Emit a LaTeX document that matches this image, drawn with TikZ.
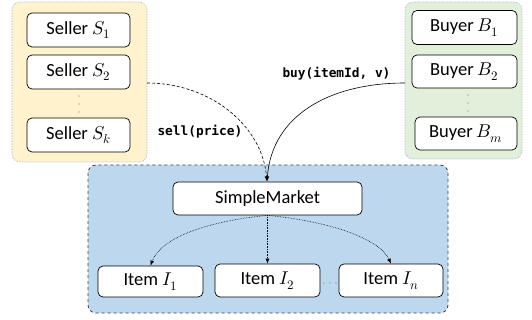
\documentclass[tikz,border=0pt]{standalone}
\usepackage{fontspec}
\usepackage{unicode-math}
\setmainfont{Carlito}
\setmonofont{DejaVu Sans Mono}
\usetikzlibrary{arrows.meta}
\definecolor{sellerbg}{HTML}{FFF2CC}
\definecolor{buyerbg}{HTML}{E2EFDA}
\definecolor{marketbg}{HTML}{BDD7EE}
\definecolor{groupline}{HTML}{8FAADC}
\definecolor{dashline}{HTML}{404040}
\definecolor{dotgray}{HTML}{707070}
\begin{document}
\begin{tikzpicture}[x=1pt,y=-1pt,
  group/.style={draw=groupline, densely dotted, line width=0.6pt, rounded corners=8pt},
  entity/.style={draw=black, line width=0.7pt, fill=white, rounded corners=5pt,
    font=\fontsize{18.5}{21}\selectfont, inner sep=0pt},
  call/.style={font=\fontsize{12.8}{15}\selectfont\ttfamily\bfseries},
  link/.style={-{Latex[length=5pt,width=4pt]}, line width=0.6pt},
  vdots/.style={line width=1.4pt, draw=dotgray, line cap=round, dash pattern=on 0pt off 8pt}
]
\useasboundingbox (0,0) rectangle (532,320);

% seller and buyer groups
\draw[group, fill=sellerbg] (12,2) rectangle (147,162);
\draw[group, fill=buyerbg] (405,2) rectangle (522,159);

% market container
\draw[fill=marketbg, draw=dashline, dashed, line width=0.8pt, rounded corners=8pt]
  (88,165) rectangle (448,313);

% sellers
\node[entity, minimum width=103pt, minimum height=34pt] (s1) at (78.5,30) {Seller $S_1$};
\node[entity, minimum width=103pt, minimum height=34pt] (s2) at (78.5,72) {Seller $S_2$};
\node[entity, minimum width=103pt, minimum height=34pt] (sk) at (78.5,135) {Seller $S_k$};

% buyers
\node[entity, minimum width=105pt, minimum height=34pt] (b1) at (464.5,27.5) {Buyer $B_1$};
\node[entity, minimum width=105pt, minimum height=33pt] (b2) at (464.5,71.5) {Buyer $B_2$};
\node[entity, minimum width=102pt, minimum height=33pt] (bm) at (466,133.5) {Buyer $B_m$};

% market internals
\node[entity, minimum width=189pt, minimum height=33pt] (sm) at (267.5,198.5) {SimpleMarket};
\node[entity, minimum width=105pt, minimum height=31pt] (i1) at (150.5,281.5) {Item $I_1$};
\node[entity, minimum width=105pt, minimum height=33pt] (i2) at (267.5,280.5) {Item $I_2$};
\node[entity, minimum width=104pt, minimum height=33pt] (in) at (391,280.5) {Item $I_n$};

% ellipses between rows and items
\coordinate (sdotA) at (79,96);
\coordinate (sdotB) at (79,112);
\draw[vdots] (sdotA) -- (sdotB);
\coordinate (bdotA) at (468,95);
\coordinate (bdotB) at (468,111);
\draw[vdots] (bdotA) -- (bdotB);
\coordinate (idotA) at (324,283);
\coordinate (idotB) at (336,283);
\draw[vdots, dash pattern=on 0pt off 6pt] (idotA) -- (idotB);

% calls into the market
\coordinate (sellout) at (147,83);
\coordinate (buyout) at (405,83);
\coordinate (smin) at (267,181.5);
\draw[link, dashed, dash pattern=on 3pt off 2pt] (sellout) .. controls (210,83) and (262,125) .. (smin);
\draw[link] (buyout) .. controls (330,83) and (272,115) .. (smin);
\node[call, anchor=west] at (154,132) {sell(price)};
\node[call, anchor=west] at (279,74) {buy(itemId, v)};

% market to items
\draw[link, densely dotted] (sm.south) .. controls (200,222) and (160,240) .. (i1.north);
\draw[link, densely dotted] (sm.south) -- (i2.north);
\draw[link, densely dotted] (sm.south) .. controls (335,222) and (380,240) .. (in.north);
\end{tikzpicture}
\end{document}
